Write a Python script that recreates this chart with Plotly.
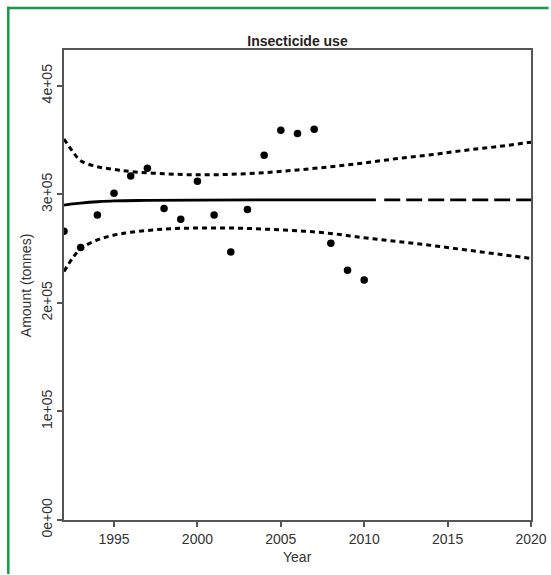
import plotly.graph_objects as go

# Observed data
years = list(range(1992, 2011))
amounts = [2.66e5, 2.51e5, 2.81e5, 3.01e5, 3.17e5, 3.24e5, 2.87e5, 2.77e5, 3.12e5, 2.81e5,
           2.47e5, 2.86e5, 3.36e5, 3.59e5, 3.56e5, 3.60e5, 2.55e5, 2.30e5, 2.21e5]

# Fitted curve (solid) and forecast (long dashed)
fit_years = [1992, 1992.5, 1993, 1994, 1995, 1997, 2000, 2005, 2010.7]
fit_vals = [2.90e5, 2.912e5, 2.92e5, 2.932e5, 2.94e5, 2.944e5, 2.947e5, 2.949e5, 2.95e5]
fc_years = [2011.2, 2020]
fc_vals = [2.95e5, 2.95e5]

# Confidence bands (short dashed)
band_years = [1992, 1992.5, 1993, 1994, 1995, 1996, 1998, 2000, 2002, 2004, 2006, 2008,
              2010, 2012, 2014, 2016, 2018, 2020]
upper_vals = [3.51e5, 3.40e5, 3.31e5, 3.255e5, 3.23e5, 3.21e5, 3.19e5, 3.18e5, 3.185e5, 3.20e5,
              3.225e5, 3.255e5, 3.29e5, 3.33e5, 3.365e5, 3.405e5, 3.44e5, 3.48e5]
lower_vals = [2.29e5, 2.41e5, 2.50e5, 2.58e5, 2.625e5, 2.65e5, 2.68e5, 2.69e5, 2.69e5, 2.68e5,
              2.665e5, 2.64e5, 2.60e5, 2.565e5, 2.53e5, 2.49e5, 2.45e5, 2.41e5]

x_ticks = [1995, 2000, 2005, 2010, 2015, 2020]
y_ticks = [0, 1e5, 2e5, 3e5, 4e5]
y_tick_labels = ["0e+00", "1e+05", "2e+05", "3e+05", "4e+05"]

fig = go.Figure()
fig.add_trace(go.Scatter(x=band_years, y=upper_vals, mode="lines", line_shape="spline",
                         line=dict(color="black", width=3, dash="5px,4px"), hoverinfo="skip"))
fig.add_trace(go.Scatter(x=band_years, y=lower_vals, mode="lines", line_shape="spline",
                         line=dict(color="black", width=3, dash="5px,4px"), hoverinfo="skip"))
fig.add_trace(go.Scatter(x=fit_years, y=fit_vals, mode="lines", line_shape="spline",
                         line=dict(color="black", width=2.8)))
fig.add_trace(go.Scatter(x=fc_years, y=fc_vals, mode="lines",
                         line=dict(color="black", width=2.8, dash="16px,6px")))
fig.add_trace(go.Scatter(x=years, y=amounts, mode="markers",
                         marker=dict(color="black", size=7.5)))

axis_common = dict(showline=True, mirror=True, linecolor="#555", linewidth=1.5,
                   ticks="outside", ticklen=5, tickcolor="#555", tickwidth=1.5,
                   showgrid=False, zeroline=False,
                   tickfont=dict(family="Liberation Sans, Arial, sans-serif", color="#333",
                                 size=14))

W, H = 559, 575
ML, MR, MT, MB = 64, 18, 50, 55
PW, PH = W - ML - MR, H - MT - MB
SX = W / 551.0  # design pixels (reference) -> figure pixels

def px_x(p):
    return (p * SX - ML) / PW

def px_y(p):
    return (H - MB - p) / PH

green = dict(color="#1a9a48", width=2.5)

fig.update_layout(
    width=W, height=H, autosize=False,
    margin=dict(l=ML, r=MR, t=MT, b=MB),
    paper_bgcolor="white", plot_bgcolor="white",
    showlegend=False,
    font=dict(family="Liberation Sans, Arial, sans-serif", color="#222"),
    title=dict(text="<b>Insecticide use</b>", x=0.5, xref="paper", xanchor="center",
               y=1 - 41 / H, yanchor="middle", font=dict(size=14, color="#222")),
    xaxis=dict(range=[1992, 2020], tickvals=x_ticks, **axis_common),
    yaxis=dict(range=[0, 4.33e5], tickvals=y_ticks, ticktext=y_tick_labels, tickangle=-90,
               **axis_common),
    annotations=[
        dict(text="Year", x=0.5, y=px_y(557), xref="paper", yref="paper", showarrow=False,
             xanchor="center", yanchor="middle", font=dict(size=14, color="#333")),
        dict(text="Amount (tonnes)", x=px_x(25), y=0.5, xref="paper", yref="paper",
             showarrow=False, textangle=-90, xanchor="center", yanchor="middle",
             font=dict(size=14, color="#333")),
    ],
    shapes=[
        dict(type="line", xref="paper", yref="paper", x0=px_x(7), x1=px_x(7),
             y0=px_y(574), y1=px_y(6.8), line=green, layer="above"),
        dict(type="line", xref="paper", yref="paper", x0=px_x(5.8), x1=px_x(551),
             y0=px_y(8), y1=px_y(8), line=green, layer="above"),
    ],
)

post = (
    "document.documentElement.style.overflow='hidden';"
    "document.body.style.margin='0';document.body.style.padding='0';"
    "document.body.style.overflow='hidden';"
)
fig.write_html("out.html", config={"displayModeBar": False}, post_script=post)
